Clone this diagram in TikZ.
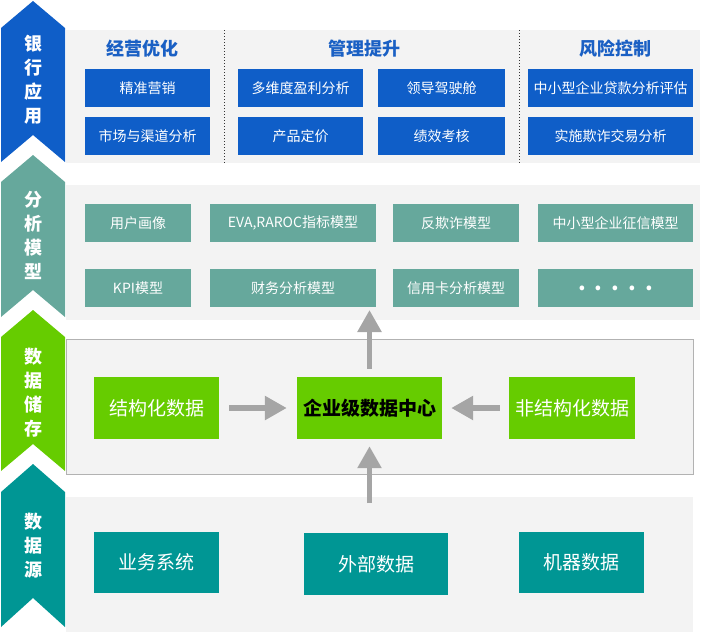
\documentclass[tikz,border=0pt]{standalone}
\usepackage{fontspec}
\newfontfamily\cjk{Noto Sans CJK SC}
\usetikzlibrary{arrows.meta}
\definecolor{cblue}{RGB}{15,94,200}
\definecolor{ctitle}{RGB}{26,96,196}
\definecolor{cgrey}{RGB}{102,168,156}
\definecolor{cgreen}{RGB}{102,204,0}
\definecolor{cteal}{RGB}{0,150,148}
\definecolor{cbg}{RGB}{243,243,243}
\definecolor{cframe}{RGB}{178,178,178}
\definecolor{carrow}{RGB}{165,165,165}
\begin{document}
\begin{tikzpicture}[x=1pt,y=-1pt,
  every node/.style={font=\cjk},
  chevtext/.style={text=white, align=center, font=\cjk\bfseries\fontsize{18}{24}\selectfont, inner sep=0pt},
  title/.style={text=ctitle, font=\cjk\bfseries\fontsize{18}{20}\selectfont, inner sep=0pt},
  smallbox/.style={inner sep=0pt, text=white, minimum height=38, font=\cjk\fontsize{14}{16}\selectfont},
  bigbox/.style={inner sep=0pt, text=white, minimum height=62, font=\cjk\fontsize{19}{21}\selectfont},
  bluebox/.style={smallbox, fill=cblue},
  greybox/.style={smallbox, fill=cgrey},
  greenbox/.style={bigbox, fill=cgreen},
  tealbox/.style={bigbox, fill=cteal},
  arr/.style={draw=carrow, line width=5.5pt, -{Triangle[length=22pt,width=23pt]}},
  sep/.style={draw=black!80, line width=0.9pt, dash pattern=on 1pt off 2pt}
]
\useasboundingbox (0,0) rectangle (703,633);

% chevrons
\fill[cblue]  (1,28)  -- (33,1)   -- (65,28)  -- (65,162) -- (33,135) -- (1,162) -- cycle;
\fill[cgrey]  (1,182) -- (33,155) -- (65,182) -- (65,317) -- (33,290) -- (1,317) -- cycle;
\fill[cgreen] (1,337) -- (33,310) -- (65,337) -- (65,471) -- (33,444) -- (1,471) -- cycle;
\fill[cteal]  (1,492) -- (33,464) -- (65,492) -- (65,627) -- (33,598) -- (1,627) -- cycle;
\node[chevtext] (l1) at (33,80) {银\\行\\应\\用};
\node[chevtext] (l2) at (33,235) {分\\析\\模\\型};
\node[chevtext] (l3) at (33,393) {数\\据\\储\\存};
\node[chevtext] (l4) at (33,546) {数\\据\\源};

% section backgrounds
\fill[cbg] (66,30) rectangle (700,163);
\fill[cbg] (66,185) rectangle (700,320);
\filldraw[fill=cbg, draw=cframe, line width=1pt] (66,339) rectangle (693,474);
\fill[cbg] (66,497) rectangle (693,632);

% section 1
\draw[sep] (224,30) -- (224,163);
\draw[sep] (519,30) -- (519,163);
\node[title] (t1) at (142,49) {经营优化};
\node[title] (t2) at (364,49) {管理提升};
\node[title] (t3) at (615,49) {风险控制};
\node[bluebox, minimum width=125] (a1) at (147.5,88) {精准营销};
\node[bluebox, minimum width=125] (a2) at (147.5,136) {市场与渠道分析};
\node[bluebox, minimum width=125] (b1) at (300.5,88) {多维度盈利分析};
\node[bluebox, minimum width=125] (b2) at (300.5,136) {产品定价};
\node[bluebox, minimum width=127] (c1) at (441.5,88) {领导驾驶舱};
\node[bluebox, minimum width=127] (c2) at (441.5,136) {绩效考核};
\node[bluebox, minimum width=165] (d1) at (610.5,88) {中小型企业贷款分析评估};
\node[bluebox, minimum width=165] (d2) at (610.5,136) {实施欺诈交易分析};

% section 2
\node[greybox, minimum width=106] (m1) at (138,223) {用户画像};
\node[greybox, minimum width=166] (m2) at (293,223) {EVA,RAROC指标模型};
\node[greybox, minimum width=126] (m3) at (456,223) {反欺诈模型};
\node[greybox, minimum width=155] (m4) at (615.5,223) {中小型企业征信模型};
\node[greybox, minimum width=106] (m5) at (138,288) {KPI模型};
\node[greybox, minimum width=166] (m6) at (293,288) {财务分析模型};
\node[greybox, minimum width=126] (m7) at (456,288) {信用卡分析模型};
\node[greybox, minimum width=155, font=\cjk\bfseries\fontsize{22}{22}\selectfont] (m8) at (615.5,288) {.\hspace{9pt}.\hspace{9pt}.\hspace{9pt}.\hspace{9pt}.};

% section 3
\node[greenbox, minimum width=125] (s1) at (156.5,408) {结构化数据};
\node[greenbox, minimum width=145, text=black, font=\cjk\bfseries\fontsize{19}{21}\selectfont] (dc) at (369.5,408) {企业级数据中心};
\node[greenbox, minimum width=126] (s2) at (572,408) {非结构化数据};

% section 4
\node[tealbox, minimum width=125, minimum height=61] (r1) at (156.5,562.5) {业务系统};
\node[tealbox, minimum width=144] (r2) at (376,564) {外部数据};
\node[tealbox, minimum width=125, minimum height=61] (r3) at (581.5,562.5) {机器数据};

% arrows
\coordinate (uptip) at (369.5,310);
\coordinate (upfoot) at (369.5,503);
\draw[arr, shorten <=10pt, shorten >=10pt] (s1.east) -- (dc.west);
\draw[arr, shorten <=9pt, shorten >=9pt] (s2.west) -- (dc.east);
\draw[arr, shorten <=8pt] (dc.north) -- (uptip);
\draw[arr, shorten >=7pt] (upfoot) -- (dc.south);
\end{tikzpicture}
\end{document}
